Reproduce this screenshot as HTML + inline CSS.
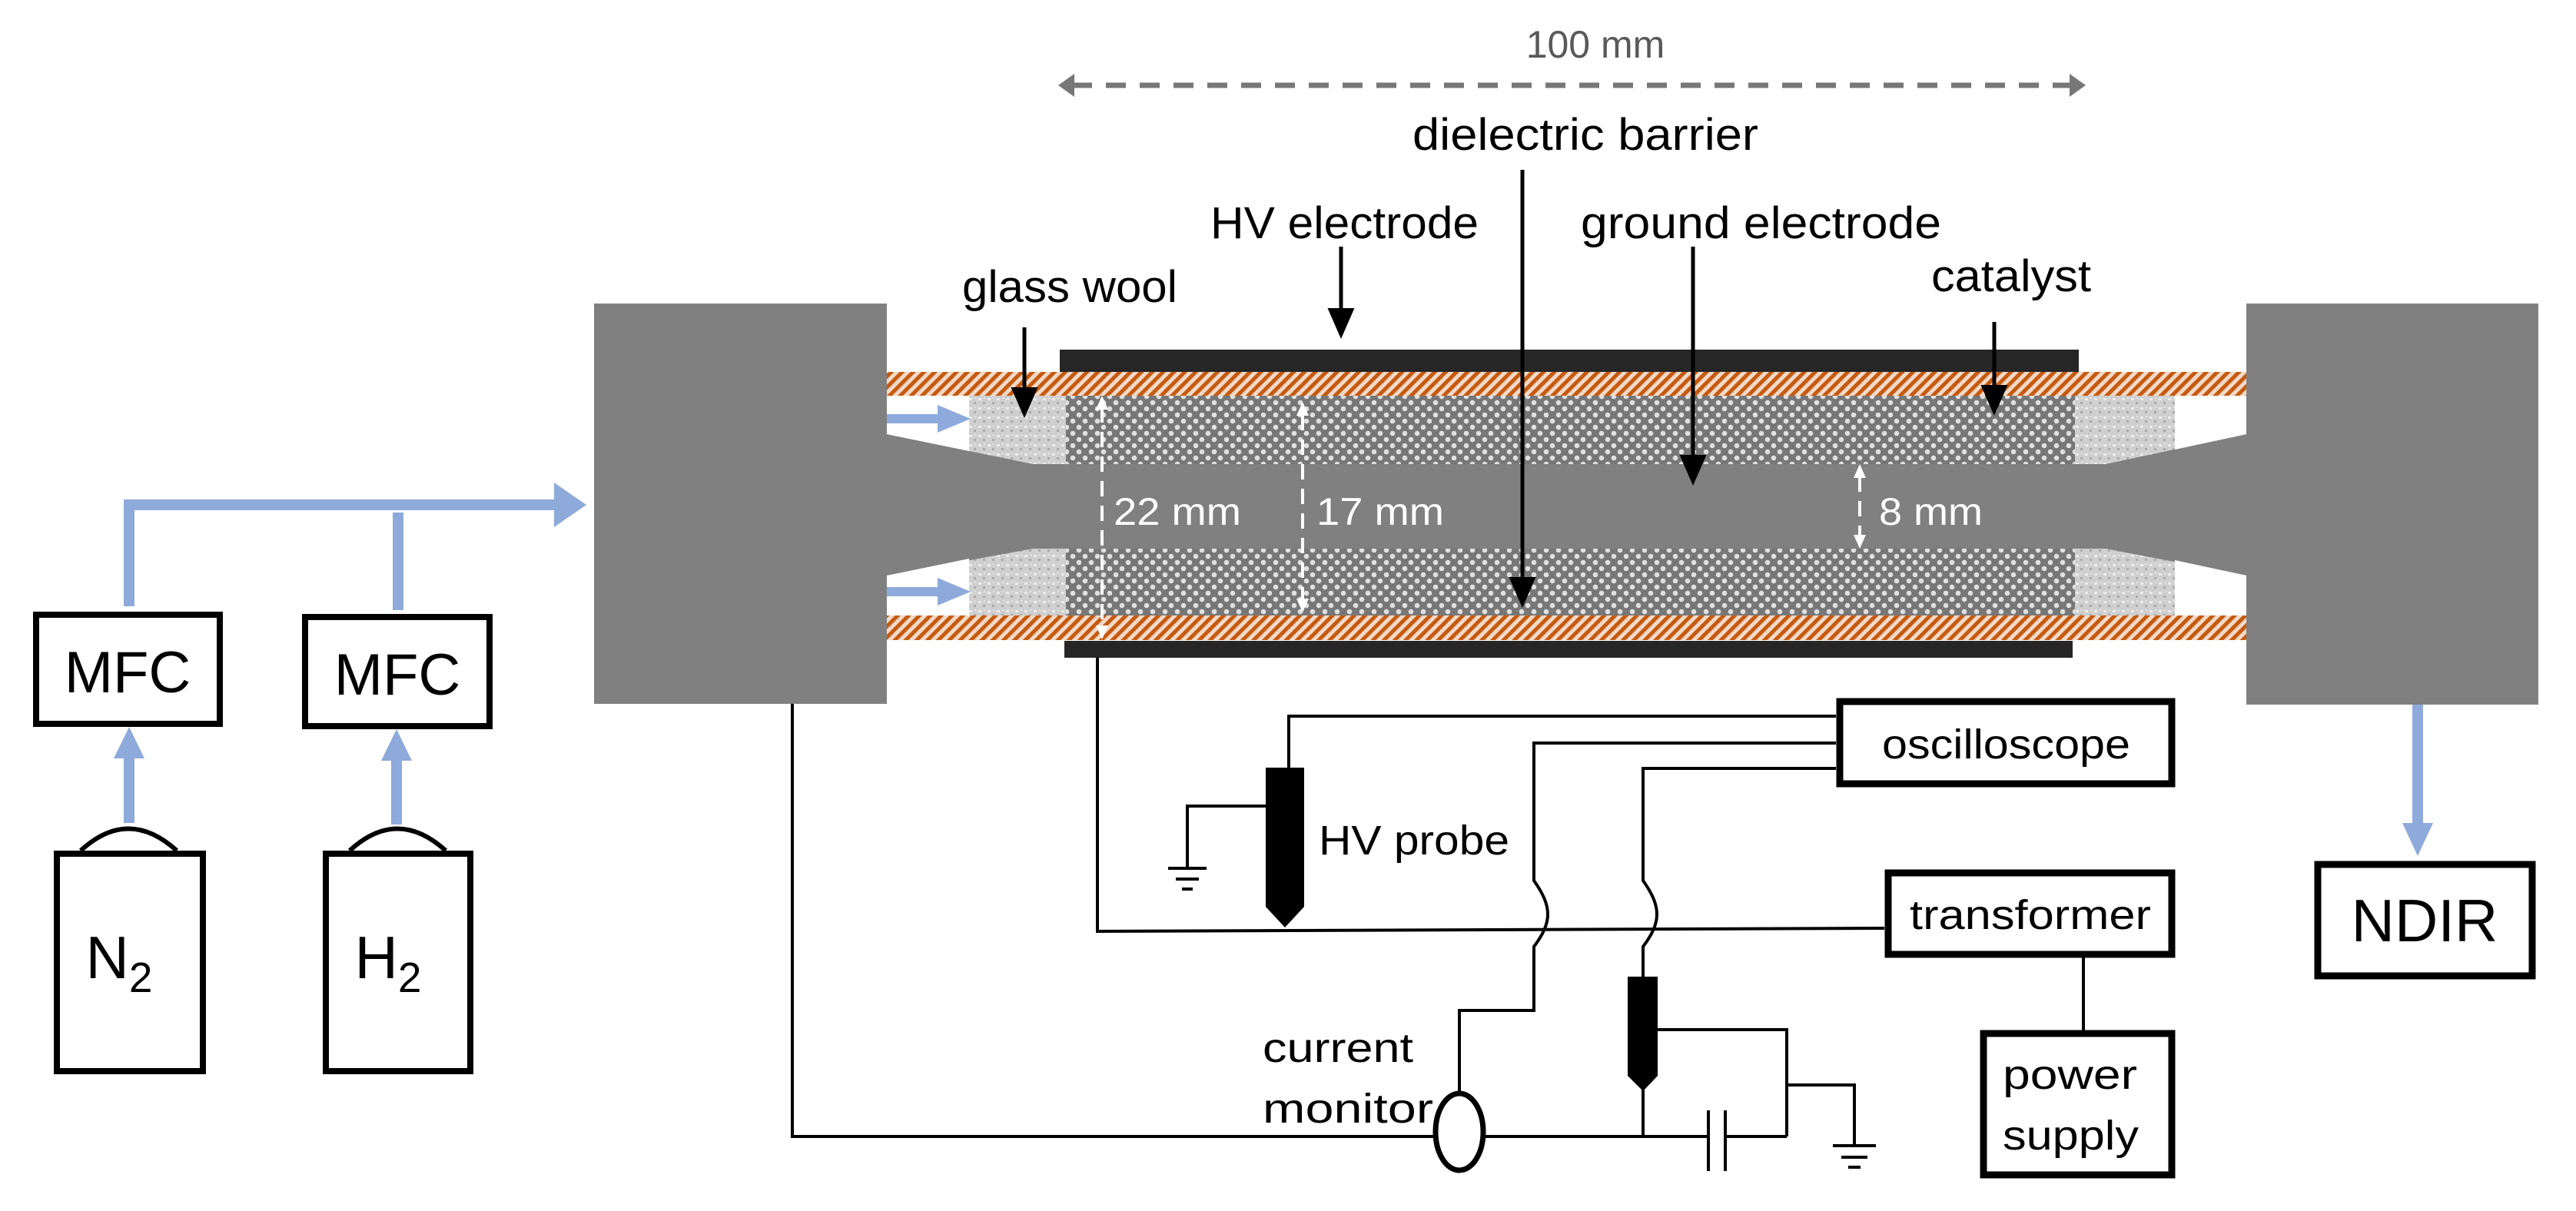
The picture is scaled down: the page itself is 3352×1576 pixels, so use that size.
<!DOCTYPE html>
<html><head><meta charset="utf-8"><style>html,body{margin:0;padding:0;background:#fff}svg{display:block}</style></head>
<body>
<svg width="3352" height="1576" viewBox="0 0 3352 1576" xmlns="http://www.w3.org/2000/svg" font-family="Liberation Sans, sans-serif">
<defs>
<pattern id="hatch" width="10" height="10" patternUnits="userSpaceOnUse" patternTransform="rotate(45)">
<rect width="10" height="10" fill="#f3d9c6"/><rect width="5" height="10" fill="#c55a11"/></pattern>
<pattern id="cat" width="16" height="16" patternUnits="userSpaceOnUse">
<rect width="16" height="16" fill="#777"/><circle cx="4" cy="4" r="3.3" fill="#e0e0e0"/><circle cx="12" cy="12" r="3.3" fill="#e0e0e0"/></pattern>
<pattern id="wool" width="12" height="12" patternUnits="userSpaceOnUse">
<rect width="12" height="12" fill="#cfcfcf"/><rect x="1" y="2" width="4" height="3" fill="#ececec"/><rect x="7" y="7" width="3" height="3" fill="#aaa"/><rect x="8" y="1" width="2" height="2" fill="#e4e4e4"/></pattern>
<marker id="ab" markerWidth="8" markerHeight="7" refX="7" refY="3.5" orient="auto" markerUnits="strokeWidth"><path d="M0,0 L8,3.5 L0,7 z" fill="#000"/></marker>
</defs>

<rect x="773" y="395" width="381" height="521" fill="#808080"/>
<rect x="2923" y="395" width="380" height="522" fill="#808080"/>

<rect x="1154" y="484" width="1769" height="31" fill="url(#hatch)"/>
<rect x="1154" y="801" width="1769" height="32" fill="url(#hatch)"/>
<rect x="1261" y="515" width="126" height="89" fill="url(#wool)"/>
<rect x="1261" y="714" width="126" height="87" fill="url(#wool)"/>
<rect x="2700" y="515" width="130" height="89" fill="url(#wool)"/>
<rect x="2700" y="714" width="130" height="87" fill="url(#wool)"/>
<rect x="1387" y="515" width="1313" height="89" fill="url(#cat)"/>
<rect x="1387" y="714" width="1313" height="87" fill="url(#cat)"/>
<path d="M1154,565 L1344,604 L2740,604 L2923,565 L2923,749 L2740,714 L1344,714 L1154,749 Z" fill="#808080"/>
<path d="M1154,515 L1261,515 L1261,587 L1154,565 Z" fill="#fff"/>
<path d="M1154,801 L1261,801 L1261,727 L1154,749 Z" fill="#fff"/>
<path d="M2830,515 L2923,515 L2923,565 L2830,585 Z" fill="#fff"/>
<path d="M2830,801 L2923,801 L2923,749 L2830,729 Z" fill="#fff"/>
<rect x="1379" y="455" width="1326" height="29" fill="#262626"/>
<rect x="1385" y="834" width="1312" height="22" fill="#262626"/>

<g fill="#8eaadb">
<rect x="1154" y="539" width="70" height="12"/><path d="M1220,527 L1263,545 L1220,563 Z"/>
<rect x="1154" y="764" width="70" height="12"/><path d="M1220,752 L1263,770 L1220,788 Z"/>
</g>

<g stroke="#777" fill="#777">
<line x1="1395" y1="111" x2="2696" y2="111" stroke-width="7" stroke-dasharray="26,18"/>
<path d="M1377,111 L1398,96 L1398,126 Z" stroke="none"/><path d="M2714,111 L2693,96 L2693,126 Z" stroke="none"/>
</g>
<text x="2076" y="75" font-size="50" fill="#595959" text-anchor="middle">100 mm</text>

<g font-size="58" fill="#000">
<text x="1838" y="195" textLength="450" lengthAdjust="spacingAndGlyphs">dielectric barrier</text>
<text x="1575" y="310" textLength="349" lengthAdjust="spacingAndGlyphs">HV electrode</text>
<text x="2057" y="310" textLength="469" lengthAdjust="spacingAndGlyphs">ground electrode</text>
<text x="1252" y="393" textLength="280" lengthAdjust="spacingAndGlyphs">glass wool</text>
<text x="2513" y="379" textLength="208" lengthAdjust="spacingAndGlyphs">catalyst</text>
</g>
<g stroke="#000" stroke-width="5" fill="none" marker-end="url(#ab)">
<line x1="1981" y1="221" x2="1981" y2="786"/>
<line x1="1745" y1="321" x2="1745" y2="436"/>
<line x1="2203" y1="321" x2="2203" y2="627"/>
<line x1="1333" y1="426" x2="1333" y2="539"/>
<line x1="2595" y1="419" x2="2595" y2="536"/>
</g>

<g stroke="#fff" stroke-width="4" fill="#fff">
<line x1="1434" y1="530" x2="1434" y2="817" stroke-dasharray="20,12"/>
<path d="M1434,515 L1426,533 L1442,533 Z" stroke="none"/><path d="M1434,832 L1426,814 L1442,814 Z" stroke="none"/>
<line x1="1695" y1="540" x2="1695" y2="785" stroke-dasharray="20,12"/>
<path d="M1695,523 L1687,541 L1703,541 Z" stroke="none"/><path d="M1695,797 L1687,779 L1703,779 Z" stroke="none"/>
<line x1="2420" y1="620" x2="2420" y2="698" stroke-dasharray="20,12"/>
<path d="M2420,604 L2412,622 L2428,622 Z" stroke="none"/><path d="M2420,714 L2412,696 L2428,696 Z" stroke="none"/>
</g>
<g font-size="50" fill="#fff">
<text x="1449" y="683" textLength="166" lengthAdjust="spacingAndGlyphs">22 mm</text>
<text x="1713" y="683" textLength="166" lengthAdjust="spacingAndGlyphs">17 mm</text>
<text x="2445" y="683" textLength="135" lengthAdjust="spacingAndGlyphs">8 mm</text>
</g>

<g fill="#8eaadb">
<rect x="161" y="650" width="566" height="14"/>
<rect x="161" y="650" width="14" height="139"/>
<rect x="511" y="667" width="14" height="127"/>
<path d="M721,628 L763,657 L721,686 Z"/>
<rect x="161" y="985" width="14" height="86"/><path d="M168,946 L148,987 L188,987 Z"/>
<rect x="509" y="988" width="14" height="85"/><path d="M516,949 L496,990 L536,990 Z"/>
<rect x="3139" y="917" width="14" height="156"/><path d="M3146,1114 L3126,1071 L3166,1071 Z"/>
</g>
<g fill="#fff" stroke="#000" stroke-width="8">
<rect x="47" y="800" width="239" height="142"/>
<rect x="397" y="803" width="240" height="142"/>
<rect x="74" y="1111" width="190" height="283"/>
<rect x="424" y="1111" width="188" height="283"/>
<path d="M105,1107 Q167,1050 230,1107" fill="none" stroke-width="6"/>
<path d="M455,1107 Q517,1050 580,1107" fill="none" stroke-width="6"/>
</g>
<g font-size="78" fill="#000" text-anchor="middle">
<text x="166" y="901" font-size="76">MFC</text>
<text x="517" y="904" font-size="76">MFC</text>
<text x="155" y="1273">N<tspan font-size="55" dy="18">2</tspan></text>
<text x="505" y="1273">H<tspan font-size="55" dy="18">2</tspan></text>
</g>

<g stroke="#000" stroke-width="4" fill="none">
<polyline points="1031,916 1031,1479 1866,1479"/>
<line x1="1932" y1="1479" x2="2223" y2="1479"/>
<line x1="2245" y1="1479" x2="2325" y2="1479"/>
<polyline points="1428,856 1428,1212 2452,1208"/>
<polyline points="2389,932 1677,932 1677,1000"/>
<polyline points="1672,1049 1545,1049 1545,1130"/>
<line x1="1520" y1="1130" x2="1570" y2="1130"/><line x1="1530" y1="1144" x2="1560" y2="1144"/><line x1="1538" y1="1157" x2="1552" y2="1157"/>
<path d="M2389,967 L1996,967 L1996,1146 C2020,1180 2020,1200 1996,1232 L1996,1315 L1899,1315 L1899,1424"/>
<path d="M2389,1000 L2138,1000 L2138,1146 C2162,1180 2162,1200 2138,1232 L2138,1272"/>
<line x1="2138" y1="1415" x2="2138" y2="1479"/>
<polyline points="2157,1340 2325,1340 2325,1479"/>
<polyline points="2325,1412 2413,1412 2413,1491"/>
<line x1="2385" y1="1491" x2="2441" y2="1491"/><line x1="2396" y1="1506" x2="2430" y2="1506"/><line x1="2405" y1="1519" x2="2421" y2="1519"/>
<line x1="2223" y1="1445" x2="2223" y2="1524"/><line x1="2245" y1="1445" x2="2245" y2="1524"/>
<line x1="2711" y1="1246" x2="2711" y2="1341"/>
<ellipse cx="1899" cy="1473" rx="31" ry="50" stroke-width="7"/>
</g>
<path d="M1647,999 L1697,999 L1697,1180 L1672,1207 L1647,1180 Z" fill="#000"/>
<path d="M2118,1271 L2157,1271 L2157,1400 L2138,1420 L2118,1400 Z" fill="#000"/>

<g fill="#fff" stroke="#000" stroke-width="9">
<rect x="2394" y="913" width="432" height="107"/>
<rect x="2457" y="1136" width="369" height="106"/>
<rect x="2581" y="1345" width="245" height="184"/>
<rect x="3016" y="1125" width="279" height="145"/>
</g>
<g font-size="54" fill="#000">
<text x="2449" y="987" textLength="323" lengthAdjust="spacingAndGlyphs">oscilloscope</text>
<text x="2485" y="1209" textLength="314" lengthAdjust="spacingAndGlyphs">transformer</text>
<text x="2606" y="1417" textLength="175" lengthAdjust="spacingAndGlyphs">power</text>
<text x="2606" y="1496" textLength="177" lengthAdjust="spacingAndGlyphs">supply</text>
<text x="1716" y="1112" textLength="248" lengthAdjust="spacingAndGlyphs">HV probe</text>
<text x="1643" y="1382" textLength="196" lengthAdjust="spacingAndGlyphs">current</text>
<text x="1643" y="1461" textLength="222" lengthAdjust="spacingAndGlyphs">monitor</text>
<text x="3155" y="1225" font-size="78" text-anchor="middle">NDIR</text>
</g>
</svg>
</body></html>
